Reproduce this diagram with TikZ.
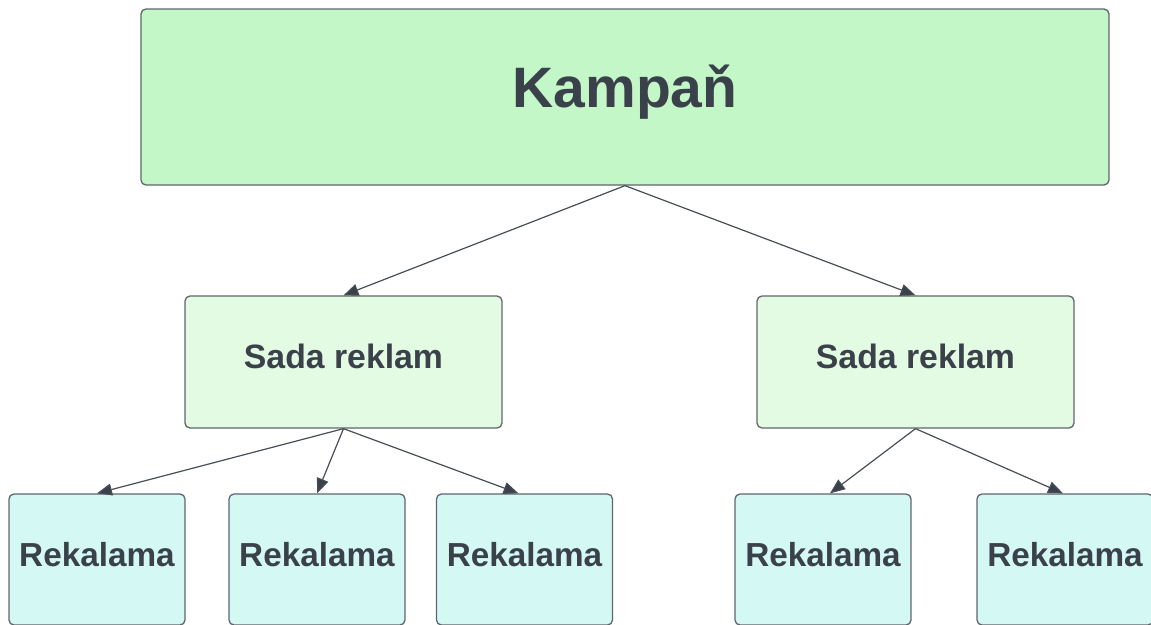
\documentclass[tikz,border=0pt]{standalone}
\usepackage{fontspec}
\setmainfont{Liberation Sans}
\usetikzlibrary{arrows.meta}
\definecolor{topfill}{HTML}{C3F7C7}
\definecolor{midfill}{HTML}{E3FAE3}
\definecolor{botfill}{HTML}{D4F8F4}
\definecolor{edgegrey}{HTML}{60666B}
\definecolor{txt}{HTML}{3A414A}
\definecolor{linec}{HTML}{474E55}
\tikzset{
  box/.style={draw=edgegrey, line width=1.3pt, rounded corners=5pt, inner sep=0pt, text=txt, text depth=0pt},
  topbox/.style={box, fill=topfill, minimum width=968pt, minimum height=176pt, text height=20pt, font=\fontsize{57}{60}\selectfont\bfseries},
  midbox/.style={box, fill=midfill, minimum width=317pt, minimum height=132pt, text height=12pt, font=\fontsize{33.8}{36}\selectfont\bfseries},
  botbox/.style={box, fill=botfill, minimum width=176pt, minimum height=131pt, text height=13pt, font=\fontsize{33.3}{36}\selectfont\bfseries},
  conn/.style={draw=linec, line width=1.2pt, -{Triangle[length=15pt,width=12pt,fill=txt]}}
}
\begin{document}
\begin{tikzpicture}[x=1pt,y=-1pt]
\useasboundingbox (0,0) rectangle (1151,624);
\clip (0,0) rectangle (1151,624);
\node[topbox] (k) at (625,97) {Kampaň};
\node[midbox] (s1) at (343.5,362) {Sada reklam};
\node[midbox] (s2) at (915.5,362) {Sada reklam};
\node[botbox] (r1) at (97,559.5) {Rekalama};
\node[botbox] (r2) at (317,559.5) {Rekalama};
\node[botbox] (r3) at (524.5,559.5) {Rekalama};
\node[botbox] (r4) at (823,559.5) {Rekalama};
\node[botbox] (r5) at (1065,559.5) {Rekalama};
\draw[conn] (k.south) -- (s1.north);
\draw[conn] (k.south) -- (s2.north);
\draw[conn] (s1.south) -- (r1.north);
\draw[conn] (s1.south) -- (r2.north);
\draw[conn] (s1.south) -- ([xshift=-6pt]r3.north);
\draw[conn] (s2.south) -- ([xshift=7pt]r4.north);
\draw[conn] (s2.south) -- ([xshift=-2pt]r5.north);
\end{tikzpicture}
\end{document}
